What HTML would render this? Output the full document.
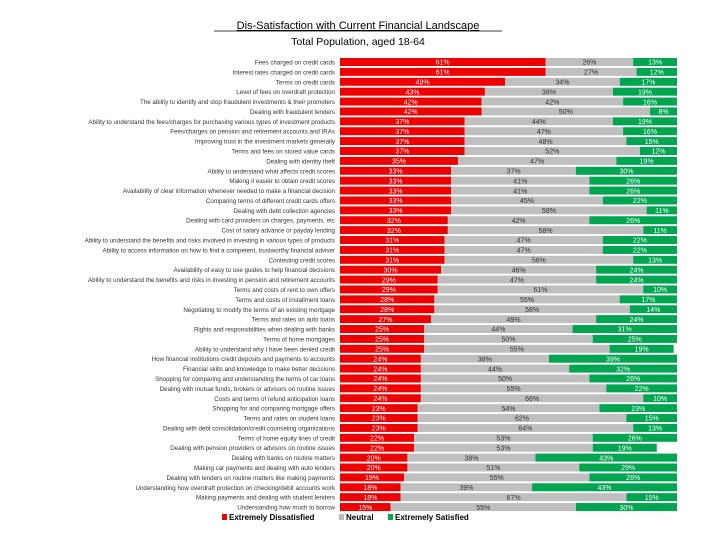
<!DOCTYPE html>
<html><head><meta charset="utf-8"><style>
body{margin:0;background:#fff;width:720px;height:540px;overflow:hidden;font-family:"Liberation Sans",sans-serif}
</style></head><body>
<svg id="chart" width="720" height="540" xmlns="http://www.w3.org/2000/svg">
<text x="358" y="29" text-anchor="middle" font-size="11" text-decoration="underline" font-family="Liberation Sans, sans-serif">Dis-Satisfaction with Current Financial Landscape</text>
<line x1="214" y1="31" x2="502" y2="31" stroke="#000" stroke-width="0.8"/>
<text x="358" y="45" text-anchor="middle" font-size="10.5" font-family="Liberation Sans, sans-serif">Total Population, aged 18-64</text>
<g id="bars"></g>
<g font-size="8" font-weight="bold" font-family="Liberation Sans, sans-serif">
<rect x="222" y="514" width="5" height="6" fill="#e00"/>
<text x="229" y="520">Extremely Dissatisfied</text>
<rect x="339" y="514" width="5" height="6" fill="#bbb"/>
<text x="346" y="520">Neutral</text>
<rect x="388" y="514" width="5" height="6" fill="#0a4"/>
<text x="395" y="520">Extremely Satisfied</text>
</g>
</svg>
<script>
const categories=["Fees charged on credit cards","Interest rates charged on credit cards","Terms on credit cards","Level of fees on overdraft protection","The ability to identify and stop fraudulent investments & their promoters","Dealing with fraudulent lenders","Ability to understand the fees/charges for purchasing various types of investment products","Fees/charges on pension and retirement accounts and IRAs","Improving trust in the investment markets generally","Terms and fees on stored value cards","Dealing with identity theft","Ability to understand what affects credit scores","Making it easier to obtain credit scores","Availability of clear information whenever needed to make a financial decision","Comparing terms of different credit cards offers","Dealing with debt collection agencies","Dealing with card providers on charges, payments, etc","Cost of salary advance or payday lending","Ability to understand the benefits and risks involved in investing in various types of products","Ability to access information on how to find a competent, trustworthy financial adviser","Contesting credit scores","Availability of easy to use guides to help financial decisions","Ability to understand the benefits and risks in investing in pension and retirement accounts","Terms and costs of rent to own offers","Terms and costs of installment loans","Negotiating to modify the terms of an existing mortgage","Terms and rates on auto loans","Rights and responsibilities when dealing with banks","Terms of home mortgages","Ability to understand why I have been denied credit","How financial institutions credit deposits and payments to accounts","Financial skills and knowledge to make better decisions","Shopping for comparing and understanding the terms of car loans","Dealing with mutual funds, brokers or advisors on routine issues","Costs and terms of refund anticipation loans","Shopping for and comparing mortgage offers","Terms and rates on student loans","Dealing with debt consolidation/credit counseling organizations","Terms of home equity lines of credit","Dealing with pension providers or advisors on routine issues","Dealing with banks on routine matters","Making car payments and dealing with auto lenders","Dealing with lenders on routine matters like making payments","Understanding how overdraft protection on checking/debit accounts work","Making payments and dealing with student lenders","Understanding how much to borrow"];
const dissatisfied=[61,61,49,43,42,42,37,37,37,37,35,33,33,33,33,33,32,32,31,31,31,30,29,29,28,28,27,25,25,25,24,24,24,24,24,23,23,23,22,22,20,20,19,18,18,15];
const neutral=[26,27,34,38,42,50,44,47,48,52,47,37,41,41,45,58,42,58,47,47,56,46,47,61,55,58,49,44,50,55,38,44,50,55,66,54,62,64,53,53,38,51,55,39,67,55];
const satisfied=[13,12,17,19,16,8,19,16,15,12,19,30,26,26,22,11,26,11,22,22,13,24,24,10,17,14,24,31,25,19,39,32,26,22,10,23,15,13,26,19,43,29,26,43,15,30];
const NS="http://www.w3.org/2000/svg";
const x0=340,x1=677,yTop=58,rowH=9.89,barH=8;
const xScale=v=>v/100*(x1-x0);
const yScale=i=>yTop+i*rowH;
const g=document.getElementById('bars');
function mk(tag,attrs){const e=document.createElementNS(NS,tag);for(const k in attrs)e.setAttribute(k,attrs[k]);return e;}
const series=[[dissatisfied,'#ee0000','#fff','dissatisfied'],[neutral,'#bfbfbf','#333','neutral'],[satisfied,'#00a550','#fff','satisfied']];
categories.forEach((c,i)=>{
  const y=yScale(i);
  const t=mk('text',{x:335,y:y+barH-1.5,'text-anchor':'end','font-size':'6.2',fill:'#333','font-family':'Liberation Sans, sans-serif'});
  t.textContent=c;
  
  
  g.appendChild(t);
  let x=x0;
  series.forEach(([arr,col,tc,nm])=>{
    const w=Math.min(xScale(arr[i]),x1-x);
    const r=mk('rect',{x:x,y:y,width:Math.max(0,w),height:barH,fill:col});
    
    
    g.appendChild(r);
    const l=mk('text',{x:x+w/2,y:y+barH-1.3,'text-anchor':'middle','font-size':'7',fill:tc,'font-family':'Liberation Sans, sans-serif'});
    l.textContent=arr[i]+'%';
    
    
    g.appendChild(l);
    x+=w;
  });
});
</script>
</body></html>
